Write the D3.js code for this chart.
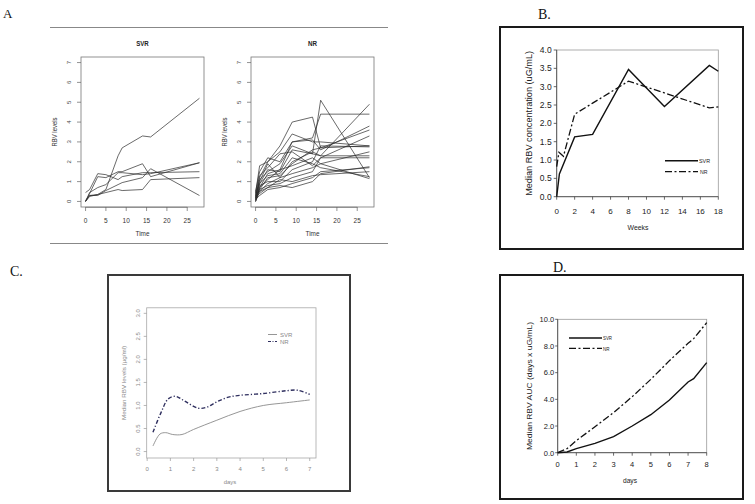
<!DOCTYPE html>
<html><head><meta charset="utf-8">
<script src="https://cdn.jsdelivr.net/npm/d3@7"></script>
<style>body{margin:0;background:#fff}svg{display:block}</style>
</head><body>
<svg id="c" width="755" height="504"></svg>
<script>
// ---- Panel A: individual RBV traces ----
const svrTimes = [0, 1, 3, 5, 8, 9, 14, 16, 28];
const svrTraces = [
  [0, 0.3, 0.35, 0.6, 2.3, 2.7, 3.3, 3.25, 5.2],
  [0.45, 0.6, 1.4, 1.35, 1.1, 1.25, 1.45, 1.45, 1.5],
  [0, 0.4, 1.25, 1.2, 1.5, 1.5, 1.9, 1.25, 1.95],
  [0.05, 0.3, 0.3, 0.55, 0.85, 0.95, 1.2, 1.65, 0.3],
  [0, 0.25, 0.35, 0.45, 0.6, 0.55, 0.6, 1.1, 1.2],
  [0, 0.45, 0.7, 0.85, 1.45, 1.45, 1.35, 1.4, 1.95]
];
const nrTimes = [0, 1, 3, 6, 9, 14, 16, 28];
const nrTraces = [
  [0.2, 1.2, 2.0, 2.8, 4.0, 4.25, 2.7, 2.8],
  [0.5, 1.5, 2.2, 2.0, 3.0, 3.2, 4.4, 4.4],
  [0.1, 0.9, 1.6, 1.5, 2.6, 2.4, 5.1, 1.2],
  [0.3, 1.0, 1.9, 1.2, 2.0, 2.5, 2.3, 4.9],
  [0.0, 0.7, 1.4, 1.6, 3.0, 3.1, 2.6, 3.8],
  [0.2, 0.6, 1.2, 1.3, 1.9, 2.6, 2.7, 3.6],
  [0.4, 1.3, 1.7, 2.4, 2.5, 1.8, 2.2, 3.3],
  [0.1, 0.8, 1.0, 1.0, 1.6, 2.0, 2.8, 2.75],
  [0.3, 0.5, 0.9, 1.2, 1.4, 1.7, 1.9, 2.5],
  [0.0, 0.6, 0.8, 0.9, 1.2, 1.5, 2.2, 2.2],
  [0.2, 0.4, 0.7, 0.8, 0.7, 1.0, 1.4, 1.75],
  [0.1, 0.3, 0.6, 0.7, 0.9, 1.2, 1.5, 1.7],
  [0.0, 0.5, 0.7, 1.1, 1.0, 1.3, 1.35, 1.5],
  [0.3, 0.9, 1.3, 1.4, 2.2, 1.9, 1.7, 1.25],
  [0.1, 0.7, 1.1, 1.6, 1.8, 2.2, 1.9, 1.15],
  [0.2, 1.1, 1.5, 1.9, 2.8, 2.4, 2.3, 2.3],
  [0.4, 1.8, 2.0, 2.5, 3.4, 3.0, 3.0, 2.8]
];
const aXTicks = [0, 5, 10, 15, 20, 25];
const aYTicks = [0, 1, 2, 3, 4, 5, 6, 7];

// ---- Panel B: median RBV concentration by week ----
const weeksSvrB = [0, 0.3, 2, 4, 8, 12, 17, 18];
const svrB = [0, 0.62, 1.63, 1.7, 3.47, 2.46, 3.58, 3.42];
const weeksNrB = [0, 0.25, 0.75, 2, 4, 8, 12, 17, 18];
const nrB = [0.82, 1.21, 1.1, 2.25, 2.55, 3.15, 2.83, 2.42, 2.45];
const bXTicks = [0, 2, 4, 6, 8, 10, 12, 14, 16, 18];
const bYTicks = [0, 0.5, 1, 1.5, 2, 2.5, 3, 3.5, 4];

// ---- Panel C: median RBV levels first week ----
const daysSvrC = [0.25, 0.55, 0.8, 1.1, 1.5, 2, 3, 4, 5, 6, 7];
const svrC = [0.12, 0.38, 0.41, 0.37, 0.37, 0.48, 0.68, 0.87, 1.0, 1.06, 1.12];
const daysNrC = [0.25, 0.6, 0.9, 1.2, 1.6, 2.2, 2.6, 3, 3.5, 4, 5, 6, 6.5, 7];
const nrC = [0.42, 0.85, 1.14, 1.2, 1.1, 0.94, 0.97, 1.08, 1.18, 1.22, 1.26, 1.32, 1.33, 1.24];
const cXTicks = [0, 1, 2, 3, 4, 5, 6, 7];
const cYTicks = [0, 0.5, 1, 1.5, 2, 2.5, 3];

// ---- Panel D: median RBV AUC ----
const daysD = [0, 0.5, 1, 2, 3, 4, 5, 6, 7, 7.3, 8];
const svrD = [0, 0.05, 0.3, 0.7, 1.2, 2.0, 2.85, 3.95, 5.3, 5.55, 6.75];
const nrD = [0, 0.3, 0.9, 1.95, 3.0, 4.2, 5.5, 6.9, 8.2, 8.55, 9.75];
const dXTicks = [0, 1, 2, 3, 4, 5, 6, 7, 8];
const dYTicks = [0, 2, 4, 6, 8, 10];

const svg = d3.select("#c");
const SANS = "Liberation Sans, Arial, sans-serif";
const SERIF = "Liberation Serif, Times New Roman, serif";

function pathOf(xs, ys, sx, sy, curve) {
  return d3.line().x((d, i) => sx(xs[i])).y(d => sy(d)).curve(curve || d3.curveLinear)(ys);
}
function txt(g, x, y, s, size, opts = {}) {
  const t = g.append("text").attr("x", x).attr("y", y).text(s)
    .attr("font-family", opts.family || SANS).attr("font-size", size)
    .attr("fill", opts.fill || "#222").attr("text-anchor", opts.anchor || "start");
  if (opts.weight) t.attr("font-weight", opts.weight);
  if (opts.len) t.attr("textLength", opts.len).attr("lengthAdjust", "spacingAndGlyphs");
  return t;
}
function rtxt(g, x, y, s, size, opts = {}) {
  const t = g.append("text").attr("transform", `translate(${x},${y}) rotate(-90)`).text(s)
    .attr("font-family", opts.family || SANS).attr("font-size", size)
    .attr("fill", opts.fill || "#222").attr("text-anchor", "middle");
  if (opts.len) t.attr("textLength", opts.len).attr("lengthAdjust", "spacingAndGlyphs");
  return t;
}

// ================= Panel A =================
txt(svg, 3, 18, "A", 13, { family: SERIF, fill: "#111" });
svg.append("line").attr("x1", 50).attr("x2", 388).attr("y1", 27.5).attr("y2", 27.5).attr("stroke", "#888").attr("stroke-width", 1);
svg.append("line").attr("x1", 50).attr("x2", 388).attr("y1", 243.5).attr("y2", 243.5).attr("stroke", "#888").attr("stroke-width", 1);

function rPanel(x0, x1, title, times, traces, titleLen) {
  const g = svg.append("g");
  const y0 = 57, y1 = 207;
  const sx = d3.scaleLinear().domain([-1.12, 29.12]).range([x0, x1]);
  const sy = d3.scaleLinear().domain([-0.28, 7.28]).range([y1, y0]);
  traces.forEach(t => g.append("path").attr("d", pathOf(times, t, sx, sy))
    .attr("fill", "none").attr("stroke", "#2a2a2a").attr("stroke-width", 0.7));
  g.append("rect").attr("x", x0).attr("y", y0).attr("width", x1 - x0).attr("height", y1 - y0)
    .attr("fill", "none").attr("stroke", "#777").attr("stroke-width", 0.8);
  g.selectAll(".xt").data(aXTicks).join("line").attr("class", "xt")
    .attr("x1", d => sx(d)).attr("x2", d => sx(d)).attr("y1", y1).attr("y2", y1 + 4)
    .attr("stroke", "#666").attr("stroke-width", 0.7);
  g.append("line").attr("x1", sx(0)).attr("x2", sx(25)).attr("y1", y1 + 0.3).attr("y2", y1 + 0.3).attr("stroke", "#666").attr("stroke-width", 0.7);
  aXTicks.forEach(d => txt(g, sx(d), 222.5, d, 6.5, { anchor: "middle", fill: "#333" }));
  g.selectAll(".yt").data(aYTicks).join("line").attr("class", "yt")
    .attr("x1", x0 - 4).attr("x2", x0).attr("y1", d => sy(d)).attr("y2", d => sy(d))
    .attr("stroke", "#666").attr("stroke-width", 0.7);
  aYTicks.forEach(d => rtxt(g, x0 - 10, sy(d), d, 6, { fill: "#444" }));
  const cx = (x0 + x1) / 2;
  txt(g, cx, 46, title, 8, { anchor: "middle", weight: "bold", fill: "#222", len: titleLen });
  txt(g, cx, 236, "Time", 6.5, { anchor: "middle", fill: "#333", len: 14 });
  rtxt(g, x0 - 24, (y0 + y1) / 2, "RBV levels", 6.5, { fill: "#333", len: 29 });
}
rPanel(81, 204, "SVR", svrTimes, svrTraces, 12.5);
rPanel(251, 374, "NR", nrTimes, nrTraces, 9);

// ================= Panel B =================
(function () {
  const g = svg.append("g");
  txt(svg, 538, 19, "B.", 14, { family: SERIF, fill: "#111" });
  g.append("rect").attr("x", 500).attr("y", 27).attr("width", 243).attr("height", 222)
    .attr("fill", "none").attr("stroke", "#1a1a1a").attr("stroke-width", 2);
  const x0 = 556.7, x1 = 718.3, y0 = 50, y1 = 196.7;
  const sx = d3.scaleLinear().domain([0, 18]).range([x0, x1]);
  const sy = d3.scaleLinear().domain([0, 4]).range([y1, y0]);
  g.append("rect").attr("x", x0).attr("y", y0).attr("width", x1 - x0).attr("height", y1 - y0)
    .attr("fill", "none").attr("stroke", "#9a9a9a").attr("stroke-width", 0.8);
  g.append("line").attr("x1", x0).attr("x2", x0).attr("y1", y0).attr("y2", y1).attr("stroke", "#444").attr("stroke-width", 0.8);
  g.append("line").attr("x1", x0).attr("x2", x1).attr("y1", y1).attr("y2", y1).attr("stroke", "#444").attr("stroke-width", 0.8);
  g.selectAll(".yt").data(bYTicks).join("line").attr("class", "yt")
    .attr("x1", x0 - 3).attr("x2", x0).attr("y1", d => sy(d)).attr("y2", d => sy(d)).attr("stroke", "#444").attr("stroke-width", 0.8);
  bYTicks.forEach(d => txt(g, x0 - 5, sy(d) + 3, d3.format(".1f")(d), 8.5, { anchor: "end" }));
  g.selectAll(".xt").data(bXTicks).join("line").attr("class", "xt")
    .attr("x1", d => sx(d)).attr("x2", d => sx(d)).attr("y1", y1).attr("y2", y1 + 3).attr("stroke", "#444").attr("stroke-width", 0.8);
  bXTicks.forEach(d => txt(g, sx(d), 213.5, d, 8, { anchor: "middle" }));
  txt(g, 638, 230, "Weeks", 8, { anchor: "middle", len: 21 });
  rtxt(g, 532, (y0 + y1) / 2, "Median RBV concentration (uG/mL)", 8.5, { len: 145 });
  g.append("path").attr("d", pathOf(weeksNrB, nrB, sx, sy)).attr("fill", "none")
    .attr("stroke", "#111").attr("stroke-width", 1.3).attr("stroke-dasharray", "7,2.5,2,2.5");
  g.append("path").attr("d", pathOf(weeksSvrB, svrB, sx, sy)).attr("fill", "none")
    .attr("stroke", "#111").attr("stroke-width", 1.4);
  g.append("line").attr("x1", 665).attr("x2", 698).attr("y1", 160.7).attr("y2", 160.7).attr("stroke", "#111").attr("stroke-width", 1.4);
  g.append("line").attr("x1", 665).attr("x2", 698).attr("y1", 171.7).attr("y2", 171.7).attr("stroke", "#111").attr("stroke-width", 1.3).attr("stroke-dasharray", "7,2.5,2,2.5");
  txt(g, 699, 163, "SVR", 6, { len: 11 });
  txt(g, 700, 174, "NR", 6, { len: 7.5 });
})();

// ================= Panel C =================
(function () {
  const g = svg.append("g");
  txt(svg, 10, 276, "C.", 14, { family: SERIF, fill: "#111" });
  g.append("rect").attr("x", 108).attr("y", 275).attr("width", 242).attr("height", 216)
    .attr("fill", "none").attr("stroke", "#3a3a3a").attr("stroke-width", 2);
  const x0 = 146.7, x1 = 316, y0 = 307.8, y1 = 458;
  const sx = d3.scaleLinear().domain([-0.02, 7.27]).range([x0, x1]);
  const sy = d3.scaleLinear().domain([-0.14, 3.12]).range([y1, y0]);
  g.append("rect").attr("x", x0).attr("y", y0).attr("width", x1 - x0).attr("height", y1 - y0)
    .attr("fill", "none").attr("stroke", "#a8a8a8").attr("stroke-width", 0.8);
  g.selectAll(".yt").data(cYTicks).join("line").attr("class", "yt")
    .attr("x1", x0 - 3).attr("x2", x0).attr("y1", d => sy(d)).attr("y2", d => sy(d)).attr("stroke", "#999").attr("stroke-width", 0.7);
  cYTicks.forEach(d => rtxt(g, x0 - 6.5, sy(d), d3.format(".1f")(d), 6, { fill: "#888" }));
  g.selectAll(".xt").data(cXTicks).join("line").attr("class", "xt")
    .attr("x1", d => sx(d)).attr("x2", d => sx(d)).attr("y1", y1).attr("y2", y1 + 3).attr("stroke", "#999").attr("stroke-width", 0.7);
  cXTicks.forEach(d => txt(g, sx(d), 470.5, d, 6, { anchor: "middle", fill: "#888" }));
  txt(g, 230, 484, "days", 6, { anchor: "middle", fill: "#888", len: 12.5 });
  rtxt(g, 125.5, (y0 + y1) / 2, "Median RBV levels (µg/ml)", 6, { fill: "#888", len: 74 });
  g.append("path").attr("d", pathOf(daysSvrC, svrC, sx, sy, d3.curveCatmullRom)).attr("fill", "none")
    .attr("stroke", "#8a8a8a").attr("stroke-width", 0.9);
  g.append("path").attr("d", pathOf(daysNrC, nrC, sx, sy, d3.curveCatmullRom)).attr("fill", "none")
    .attr("stroke", "#2e2e5e").attr("stroke-width", 1.4).attr("stroke-dasharray", "4,2,1.2,2");
  g.append("line").attr("x1", 268).attr("x2", 277).attr("y1", 334.5).attr("y2", 334.5).attr("stroke", "#8a8a8a").attr("stroke-width", 0.9);
  g.append("line").attr("x1", 268).attr("x2", 277).attr("y1", 341.5).attr("y2", 341.5).attr("stroke", "#2e2e5e").attr("stroke-width", 1.2).attr("stroke-dasharray", "3,1.5,1,1.5");
  txt(g, 280, 336.8, "SVR", 6, { fill: "#888" });
  txt(g, 280, 343.8, "NR", 6, { fill: "#888" });
})();

// ================= Panel D =================
(function () {
  const g = svg.append("g");
  txt(svg, 553, 272, "D.", 14, { family: SERIF, fill: "#111" });
  g.append("rect").attr("x", 500).attr("y", 275).attr("width", 243).attr("height", 224)
    .attr("fill", "none").attr("stroke", "#1a1a1a").attr("stroke-width", 2);
  const x0 = 557.7, x1 = 706.7, y0 = 319.3, y1 = 452.7;
  const sx = d3.scaleLinear().domain([0, 8]).range([x0, x1]);
  const sy = d3.scaleLinear().domain([0, 10]).range([y1, y0]);
  g.append("rect").attr("x", x0).attr("y", y0).attr("width", x1 - x0).attr("height", y1 - y0)
    .attr("fill", "none").attr("stroke", "#9a9a9a").attr("stroke-width", 0.8);
  g.append("line").attr("x1", x0).attr("x2", x0).attr("y1", y0).attr("y2", y1).attr("stroke", "#444").attr("stroke-width", 0.8);
  g.append("line").attr("x1", x0).attr("x2", x1).attr("y1", y1).attr("y2", y1).attr("stroke", "#444").attr("stroke-width", 0.8);
  g.selectAll(".yt").data(dYTicks).join("line").attr("class", "yt")
    .attr("x1", x0 - 2.5).attr("x2", x0).attr("y1", d => sy(d)).attr("y2", d => sy(d)).attr("stroke", "#444").attr("stroke-width", 0.8);
  dYTicks.forEach(d => txt(g, x0 - 3.5, sy(d) + 2.8, d3.format(".1f")(d), 7.5, { anchor: "end" }));
  g.selectAll(".xt").data(dXTicks).join("line").attr("class", "xt")
    .attr("x1", d => sx(d)).attr("x2", d => sx(d)).attr("y1", y1).attr("y2", y1 + 3).attr("stroke", "#444").attr("stroke-width", 0.8);
  dXTicks.forEach(d => txt(g, sx(d), 467, d, 7.5, { anchor: "middle" }));
  txt(g, 630, 483, "days", 7.5, { anchor: "middle", len: 14 });
  rtxt(g, 532, (y0 + y1) / 2, "Median RBV AUC (days x uG/mL)", 8, { len: 128 });
  g.append("path").attr("d", pathOf(daysD, nrD, sx, sy)).attr("fill", "none")
    .attr("stroke", "#111").attr("stroke-width", 1.3).attr("stroke-dasharray", "7,2.5,2,2.5");
  g.append("path").attr("d", pathOf(daysD, svrD, sx, sy)).attr("fill", "none")
    .attr("stroke", "#111").attr("stroke-width", 1.4);
  g.append("line").attr("x1", 569).attr("x2", 602).attr("y1", 338).attr("y2", 338).attr("stroke", "#111").attr("stroke-width", 1.4);
  g.append("line").attr("x1", 569).attr("x2", 602).attr("y1", 348.3).attr("y2", 348.3).attr("stroke", "#111").attr("stroke-width", 1.3).attr("stroke-dasharray", "7,2.5,2,2.5");
  txt(g, 603, 340.3, "SVR", 6, { len: 9 });
  txt(g, 603, 350.6, "NR", 6, { len: 6.5 });
})();
</script>
</body></html>
